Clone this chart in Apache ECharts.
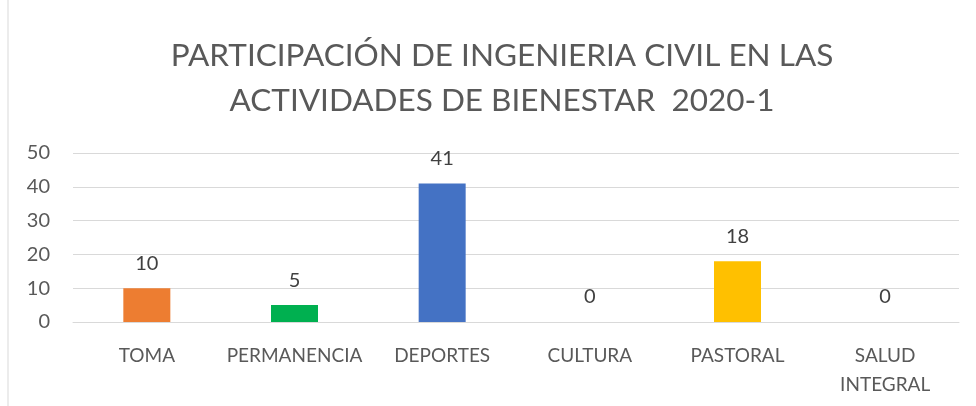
<!DOCTYPE html>
<html>
<head>
<meta charset="utf-8">
<script src="https://cdn.jsdelivr.net/npm/echarts@6/dist/echarts.min.js"></script>
<style>
  html, body { margin: 0; padding: 0; background: #fff; }
  #chart { width: 976px; height: 406px; }
</style>
</head>
<body>
<div id="chart"></div>
<script>
// datos de la gráfica
const categorias = ["TOMA", "PERMANENCIA", "DEPORTES", "CULTURA", "PASTORAL", "SALUD\nINTEGRAL"];
const participantes = [10, 5, 41, 0, 18, 0];
const colores = ["#ED7D31", "#00B050", "#4472C4", "#A5A5A5", "#FFC000", "#5B9BD5"];
const ticksY = [0, 10, 20, 30, 40, 50];

const chart = echarts.init(document.getElementById("chart"));
const fuente = "Lato, 'Liberation Sans', sans-serif";

chart.setOption({
  animation: false,
  title: {
    text: "PARTICIPACIÓN DE INGENIERIA CIVIL EN LAS\nACTIVIDADES DE BIENESTAR  2020-1",
    left: 497,
    textAlign: "center",
    top: 28,
    textStyle: {
      fontFamily: fuente,
      fontSize: 31.5,
      fontWeight: "normal",
      color: "#595959",
      lineHeight: 45,
    },
  },
  graphic: [
    {
      type: "line",
      shape: { x1: 8, y1: 0, x2: 8, y2: 406 },
      style: { stroke: "#d9d9d9", lineWidth: 1 },
    },
  ],
  grid: {
    left: 73,
    right: 17,
    top: 153,
    bottom: 84,
  },
  xAxis: {
    type: "category",
    data: categorias,
    axisLine: { lineStyle: { color: "#d9d9d9", width: 1 } },
    axisTick: { show: false },
    axisLabel: {
      interval: 0,
      margin: 19,
      color: "#595959",
      fontFamily: fuente,
      fontSize: 19,
      lineHeight: 29,
    },
  },
  yAxis: {
    type: "value",
    min: ticksY[0],
    max: ticksY[ticksY.length - 1],
    interval: 10,
    axisLine: { show: false },
    axisTick: { show: false },
    splitLine: { lineStyle: { color: "#d9d9d9", width: 1 } },
    axisLabel: {
      margin: 23,
      color: "#595959",
      fontFamily: fuente,
      fontSize: 20,
    },
  },
  series: [
    {
      type: "bar",
      barWidth: 47,
      data: participantes.map((v, i) => ({ value: v, itemStyle: { color: colores[i] } })),
      label: {
        show: true,
        position: "top",
        distance: 15,
        color: "#404040",
        fontFamily: fuente,
        fontSize: 20,
      },
    },
  ],
});
</script>
</body>
</html>
